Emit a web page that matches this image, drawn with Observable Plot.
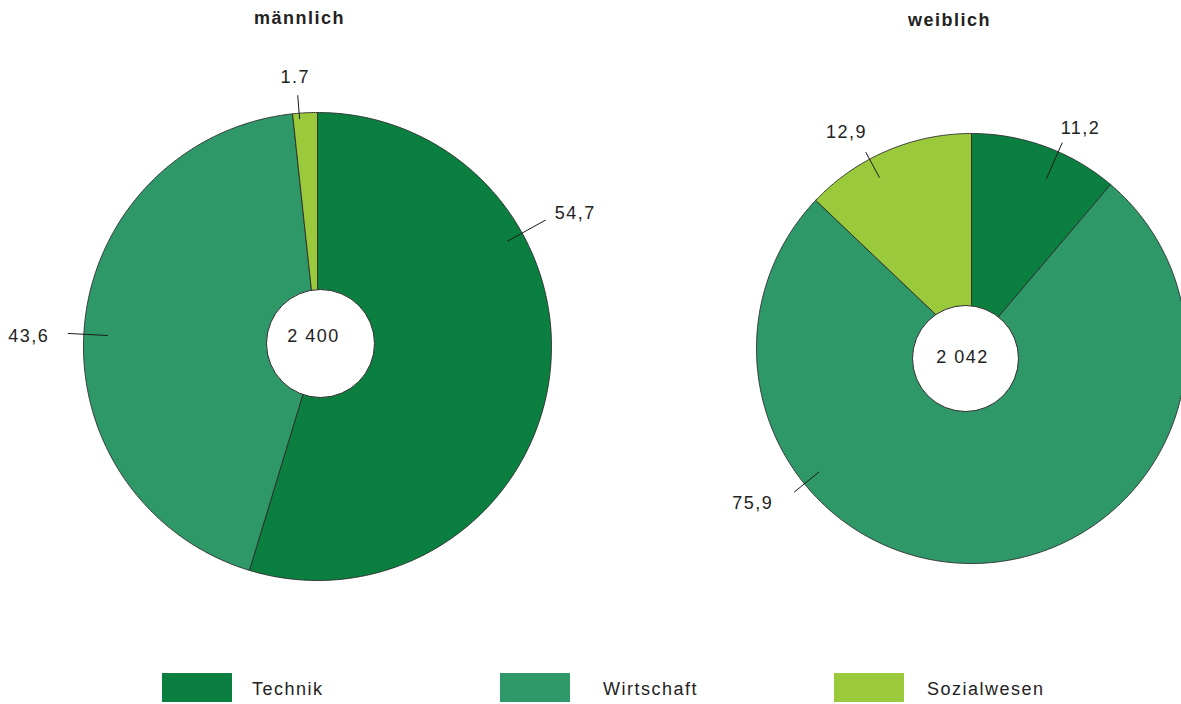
<!DOCTYPE html>
<html>
<head>
<meta charset="utf-8">
<script src="https://cdn.jsdelivr.net/npm/d3@7"></script>
<script src="https://cdn.jsdelivr.net/npm/@observablehq/plot@0.6"></script>
<style>
  body { margin: 0; background: #fff; font-family: "Liberation Sans", Arial, sans-serif; }
  #wrap { position: relative; width: 1181px; height: 704px; overflow: hidden; }
  #chart svg { display: block; }
  .sw { position: absolute; width: 70px; height: 29px; }
  .lt { position: absolute; font-size: 18px; letter-spacing: 1.5px; color: #222; line-height: 20px; }
</style>
</head>
<body>
<div id="wrap">
  <div id="chart"></div>
  <div id="legend"></div>
</div>
<script>
// ---------- data ----------
const categories = ["Technik", "Wirtschaft", "Sozialwesen"];
const colors = ["#0a7f3f", "#2e9868", "#9aca3c"];
const groups = ["männlich", "weiblich"];
const maleValues = [54.7, 43.6, 1.7];
const femaleValues = [11.2, 75.9, 12.9];
const maleLabels = ["54,7", "43,6", "1.7"];
const femaleLabels = ["11,2", "75,9", "12,9"];
const totals = ["2 400", "2 042"];

// ---------- layout (pixels) ----------
const W = 1181, H = 660;
const layout = [
  { cx: 317, cy: 346, r: 234, hx: 320, hy: 343, hr: 54, tx: 313, ty: 336, titleX: 299, titleY: 18,
    lab: [ {a: 61, r1: 217, r2: 261, ta: 62.7, tr: 290},
           {a: 273, r1: 210, r2: 250, ta: 272, tr: 289},
           {a: 355.5, r1: 228, r2: 252, ta: 355.3, tr: 270} ] },
  { cx: 971, cy: 348, r: 215, hx: 965, hy: 358, hr: 53, tx: 962, ty: 357, titleX: 949, titleY: 20,
    lab: [ {a: 23.8, r1: 185, r2: 225, ta: 26.3, tr: 246},
           {a: 231, r1: 196, r2: 228, ta: 234.7, tr: 268},
           {a: 331.7, r1: 194, r2: 223, ta: 330, tr: 250} ] }
];
const seriesValues = [maleValues, femaleValues];
const seriesLabels = [maleLabels, femaleLabels];

const rad = d => d * Math.PI / 180;
const polar = (L, angDeg, r) => ({ x: L.cx + r * Math.sin(rad(angDeg)), y: L.cy - r * Math.cos(rad(angDeg)) });

// slice polygons derived from values
const polys = [];
const leaders = [];
const valueTexts = [];
groups.forEach((g, gi) => {
  const L = layout[gi];
  const vals = seriesValues[gi];
  const total = d3.sum(vals);
  let acc = 0;
  vals.forEach((v, i) => {
    const a0 = acc / total * 360, a1 = (acc + v) / total * 360;
    acc += v;
    const key = g + "-" + categories[i];
    polys.push({ key, cat: categories[i], ...polar(L, 0, 0) });
    const n = Math.max(2, Math.ceil((a1 - a0) / 0.5));
    for (let k = 0; k <= n; k++) {
      const a = a0 + (a1 - a0) * k / n;
      polys.push({ key, cat: categories[i], ...polar(L, a, L.r) });
    }
    polys.push({ key, cat: categories[i], ...polar(L, 0, 0) });
    const lb = L.lab[i];
    const p1 = polar(L, lb.a, lb.r1), p2 = polar(L, lb.a, lb.r2), pt = polar(L, lb.ta, lb.tr);
    leaders.push({ x1: p1.x, y1: p1.y, x2: p2.x, y2: p2.y });
    valueTexts.push({ x: pt.x, y: pt.y, text: seriesLabels[gi][i] });
  });
});

const holes = layout.map((L, i) => ({ x: L.hx, y: L.hy, r: L.hr, tx: L.tx, ty: L.ty, total: totals[i] }));
const titles = layout.map((L, i) => ({ x: L.titleX, y: L.titleY, text: groups[i] }));

const plot = Plot.plot({
  width: W, height: H, margin: 0,
  x: { domain: [0, W], range: [0, W], axis: null },
  y: { domain: [0, H], range: [0, H], axis: null },
  color: { domain: categories, range: colors },
  style: { fontFamily: '"Liberation Sans", Arial, sans-serif', fontSize: "18px", letterSpacing: "1.5px", overflow: "hidden", background: "#fff" },
  marks: [
    Plot.line(polys, { x: "x", y: "y", z: "key", fill: "cat", stroke: "#2b2b2b", strokeWidth: 0.9, strokeLinejoin: "round", curve: "linear" }),
    ...holes.map(h => Plot.dot([h], { x: "x", y: "y", r: h.r, fill: "#fff", stroke: "#2b2b2b", strokeWidth: 1 })),
    Plot.text(holes, { x: "tx", y: "ty", text: "total", fill: "#222", fontSize: 18 }),
    Plot.link(leaders, { x1: "x1", y1: "y1", x2: "x2", y2: "y2", stroke: "#1a1a1a", strokeWidth: 1 }),
    Plot.text(valueTexts, { x: "x", y: "y", text: "text", fill: "#222", fontSize: 18 }),
    Plot.text(titles, { x: "x", y: "y", text: "text", fill: "#222", fontSize: 18, fontWeight: "bold" })
  ]
});
document.getElementById("chart").appendChild(plot);

// legend (HTML, below the svg)
const legendSwatchX = [162, 500, 834];
const legendTextX = [252, 603, 927];
const legend = document.getElementById("legend");
categories.forEach((c, i) => {
  const s = document.createElement("div");
  s.className = "sw";
  s.style.left = legendSwatchX[i] + "px";
  s.style.top = "673px";
  s.style.background = colors[i];
  legend.appendChild(s);
  const t = document.createElement("div");
  t.className = "lt";
  t.style.left = legendTextX[i] + "px";
  t.style.top = "679px";
  t.textContent = c;
  legend.appendChild(t);
});
</script>
</body>
</html>
